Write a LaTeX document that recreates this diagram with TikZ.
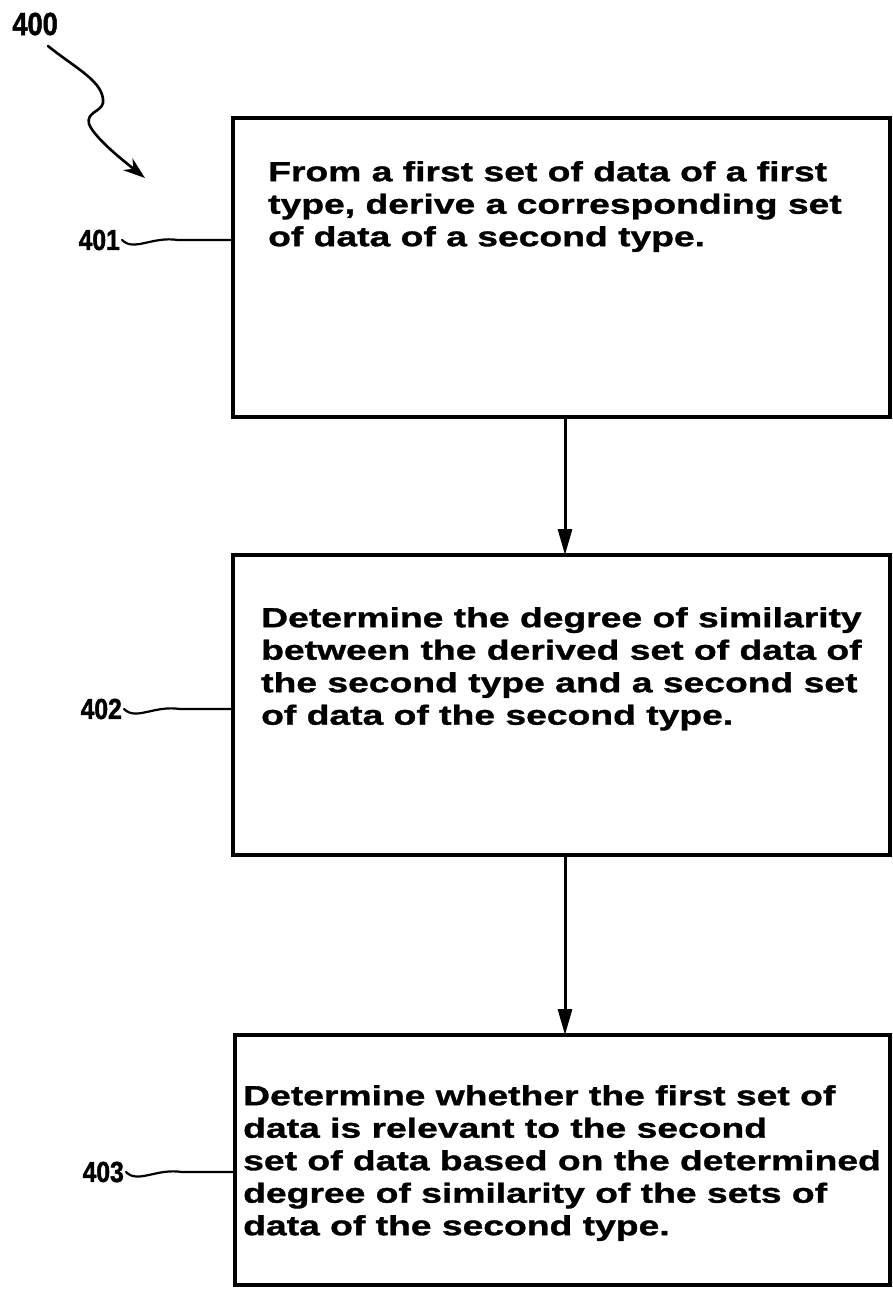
\documentclass[tikz,border=0pt]{standalone}
\usepackage{fontspec}
\usetikzlibrary{arrows.meta}
\newfontfamily\boxfont{Liberation Sans}[FakeStretch=1.35, FakeBold=1.2]
\newfontfamily\labfont{Liberation Sans}[FakeStretch=0.85, FakeBold=1.5]
\tikzset{
  stepbox/.style={draw=black, line width=3.6pt, fill=none},
  steptext/.style={anchor=north west, inner sep=0pt, align=left,
    font=\boxfont\bfseries\fontsize{27.6}{32.5}\selectfont},
  reflabel/.style={anchor=east, inner sep=0pt, font=\labfont\bfseries\fontsize{29}{30}\selectfont},
  flow/.style={line width=3pt, -{Triangle[length=26pt, width=14pt]}},
  leader/.style={line width=2.2pt, line cap=round}
}
\begin{document}
\begin{tikzpicture}[x=1pt, y=-1pt]
\useasboundingbox (0,0) rectangle (893,1290);
\fill[white] (0,0) rectangle (893,1290);

% boxes
\draw[stepbox] (233,118) rectangle (890,417);
\draw[stepbox] (233,555) rectangle (890,855);
\draw[stepbox] (235,1035) rectangle (890,1285);
\coordinate (b1b) at (565,417);
\coordinate (b2t) at (565,555);
\coordinate (b2b) at (565,855);
\coordinate (b3t) at (565,1035);
\coordinate (b1l) at (233,240);
\coordinate (b2l) at (233,709);
\coordinate (b3l) at (235,1172);

\node[steptext] (t1) at (268,161) {From a first set of data of a first\\type, derive a corresponding set\\of data of a second type.};
\node[steptext] (t2) at (261,607) {Determine the degree of similarity\\between the derived set of data of\\the second type and a second set\\of data of the second type.};
\node[steptext] (t3) at (243,1085) {Determine whether the first set of\\data is relevant to the second\\set of data based on the determined\\degree of similarity of the sets of\\data of the second type.};

% connectors
\draw[flow] (b1b) -- (b2t);
\draw[flow] (b2b) -- (b3t);

% reference labels
\node[reflabel, font=\labfont\bfseries\fontsize{32}{32}\selectfont] (l400) at (58,24) {400};
\node[reflabel] (l401) at (120,240) {401};
\node[reflabel] (l402) at (122,709) {402};
\node[reflabel] (l403) at (124,1172) {403};

\draw[leader] (l401.east) ++(2,0) coordinate (s1) .. controls (134,252) and (152,236) .. (178,240) -- (b1l);
\draw[leader] (l402.east) ++(2,0) coordinate (s2) .. controls (136,721) and (154,705) .. (180,709) -- (b2l);
\draw[leader] (l403.east) ++(2,0) coordinate (s3) .. controls (138,1184) and (156,1168) .. (182,1172) -- (b3l);

% 400 arrow
\coordinate (a0) at (48,46);
\coordinate (a1) at (145,178);
\draw[line width=2.6pt, line cap=round, -{Stealth[length=22pt, width=15pt]}]
  (a0) .. controls (75,68) and (105,82) .. (103,103)
  .. controls (101,112) and (86,112) .. (89,124)
  .. controls (95,138) and (120,158) .. (a1);
\end{tikzpicture}
\end{document}
